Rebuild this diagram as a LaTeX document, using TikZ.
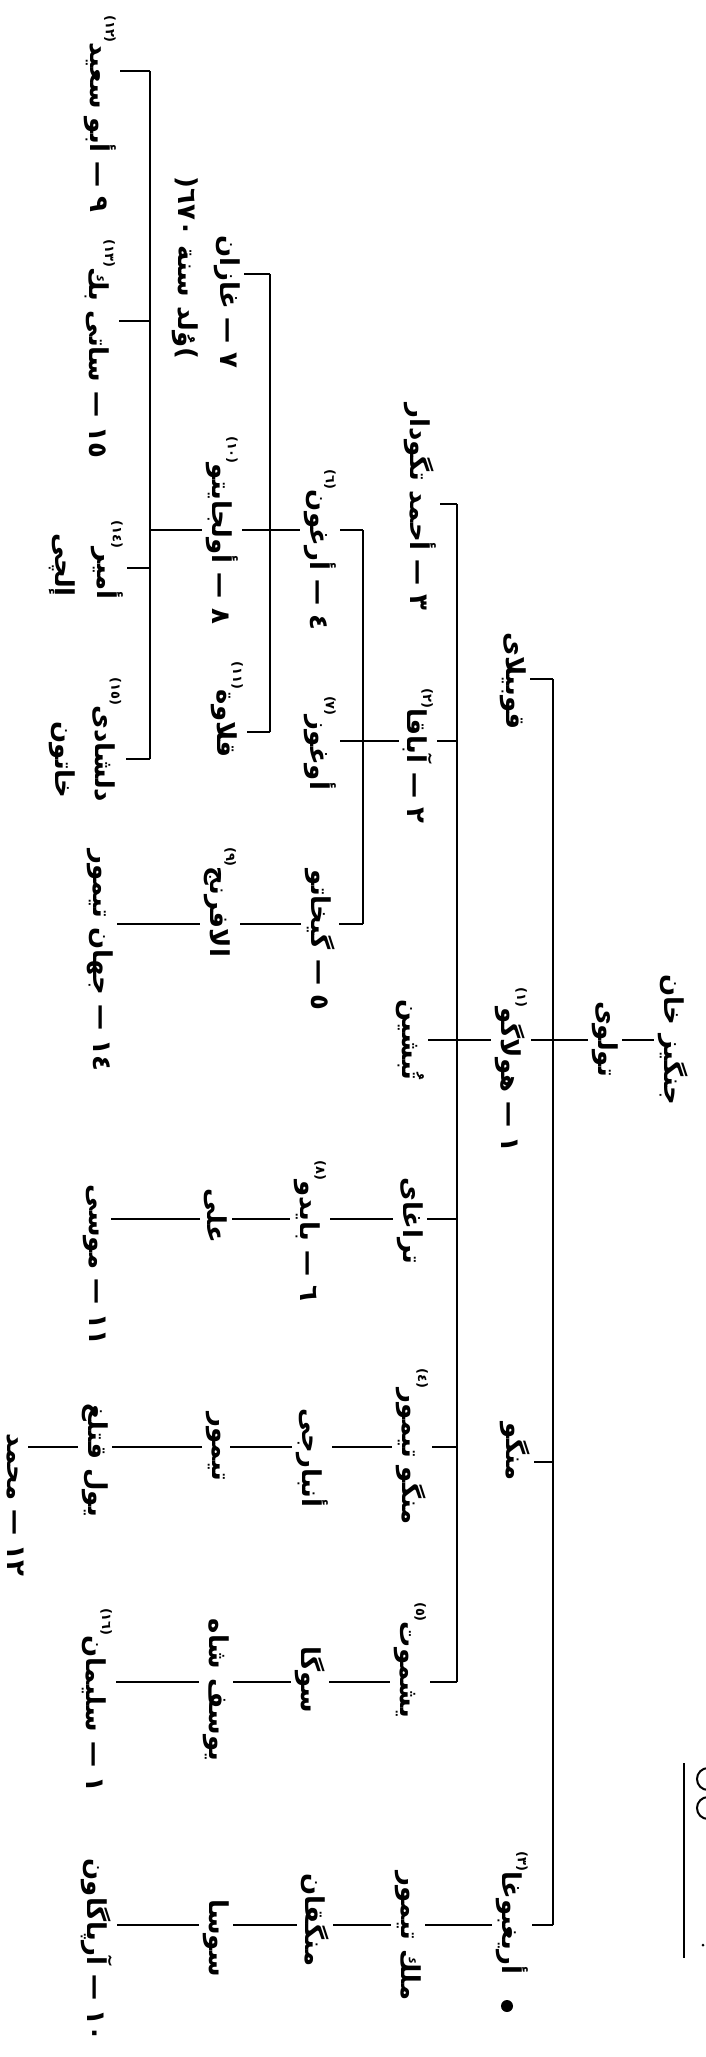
\documentclass[tikz,border=0pt]{standalone}
\usepackage{fontspec}
\usepackage{tikz}
\newfontfamily\arabicfont[Script=Arabic]{DejaVu Sans}
\TeXXeTstate=1
\newcommand{\artxt}[1]{\beginR #1\endR}
\newcommand{\nd}{\hspace{0.35em}—\hspace{0.35em}}
\newcommand{\fnum}[1]{\raisebox{1.1ex}{\fontsize{6.5}{7}\selectfont\beginL(#1)\endL}}
\tikzset{
    % 人名
    person/.style={
        rotate=-90,
        inner sep=2pt,
        font=\arabicfont\bfseries\fontsize{13}{15}\selectfont
    },
    % 竖线
    bar/.style={
        line width=1pt,
        black
    },
    % 横线
    link/.style={
        line width=1pt,
        black
    }
}
\begin{document}
\begin{tikzpicture}[x=0.5pt,y=-0.5pt]
   \useasboundingbox (0,0) rectangle (706,2057);
   \path
    (553,0) coordinate (b-tolui)
    (457,0) coordinate (b-hulagu)
    (363,0) coordinate (b-abaqa)
    (270,0) coordinate (b-arghun)
    (150,0) coordinate (b-oljaitu)
    (0,71)   coordinate (r-abusaid)
    (0,274)  coordinate (r-ghazan)
    (0,321)  coordinate (r-satibeg)
    (0,504)  coordinate (r-tekuder)
    (0,530)  coordinate (r-arghun)
    (0,568)  coordinate (r-amir)
    (0,679)  coordinate (r-qubilai)
    (0,732)  coordinate (r-qalawa)
    (0,741)  coordinate (r-abaqa)
    (0,759)  coordinate (r-dilshad)
    (0,924)  coordinate (r-gaykhatu)
    (0,1040) coordinate (r-root)
    (0,1219) coordinate (r-taraghai)
    (0,1447) coordinate (r-mtemur)
    (0,1462) coordinate (r-mongke)
    (0,1682) coordinate (r-yoshmut)
    (0,1925) coordinate (r-ariq)
    ;

   % 第0-2代
   \node[person] (chingiz) at (673,1040) {\artxt{جنگيز خان}};
   \node[person] (tolui) at (605,1039) {\artxt{تولوى}};
   \node[person] (qubilai) at (513,681) {\artxt{قوبيلاى}};
   \node[person] (hulagu) at (511,1070) {\artxt{١\nd هولاگو\fnum{١}}};
   \node[person] (mongke) at (515,1452) {\artxt{منگو}};
   \node[person] (ariq) at (512,1913) {\artxt{أريغبوغا\fnum{٣}}};
   \node[circle, fill=black, inner sep=0pt, minimum size=6pt] (dot) at (507,2006) {};

   % 第3代
   \node[person] (tekuder) at (420,507) {\artxt{٣\nd أحمد تگودار}};
   \node[person] (abaqa) at (418,756) {\artxt{٢\nd آباقا\fnum{٢}}};
   \node[person] (tubshin) at (410,1040) {\artxt{تُبشين}};
   \node[person] (taraghai) at (410,1221) {\artxt{تراغاى}};
   \node[person] (mtemur) at (412,1447) {\artxt{منگو تيمور\fnum{٤}}};
   \node[person] (yoshmut) at (410,1660) {\artxt{يشموت\fnum{٥}}};
   \node[person] (melik) at (408,1936) {\artxt{ملك تيمور}};

   % 第4代
   \node[person] (arghun) at (320,550) {\artxt{٤\nd أرغون\fnum{٦}}};
   \node[person] (oghuz) at (320,743) {\artxt{أوغوز\fnum{٧}}};
   \node[person] (gaykhatu) at (320,940) {\artxt{٥\nd گيخاتو}};
   \node[person] (baydu) at (310,1231) {\artxt{٦\nd بايدو\fnum{٨}}};
   \node[person] (anbarchi) at (312,1458) {\artxt{أنبارجى}};
   \node[person] (soga) at (310,1680) {\artxt{سوگا}};
   \node[person] (mingqan) at (315,1920) {\artxt{منگقان}};

   % 第5代
   \node[person] (ghazan) at (227,302) {\artxt{٧\nd غازان}};
   \node[person] (ghazan-note) at (185,268) {\beginL\mbox{(}\artxt{وُلد سنة ٦٧٠}\mbox{)}\endL};
   \node[person] (oljaitu) at (222,530) {\artxt{٨\nd أولجايتو\fnum{١٠}}};
   \node[person] (qalawa) at (227,710) {\artxt{قلاوة\fnum{١١}}};
   \node[person] (alafrang) at (220,902) {\artxt{الافرنج\fnum{٩}}};
   \node[person] (ali) at (216,1216) {\artxt{على}};
   \node[person] (temur) at (216,1447) {\artxt{تيمور}};
   \node[person] (yusuf) at (216,1690) {\artxt{يوسف شاه}};
   \node[person] (sosa) at (216,1938) {\artxt{سوسا}};

   % 第6-7代
   \node[person] (abusaid) at (100,114) {\artxt{٩\nd أبو سعيد\fnum{١٢}}};
   \node[person] (satibeg) at (100,349) {\artxt{١٥\nd ساتى بك\fnum{١٣}}};
   \node[person] (amir) at (107,560) {\artxt{أمير\fnum{١٤}}};
   \node[person] (amir-2) at (62,565) {\artxt{إلچى}};
   \node[person] (dilshad) at (107,740) {\artxt{دلشادى\fnum{١٥}}};
   \node[person] (dilshad-2) at (62,760) {\artxt{خاتون}};
   \node[person] (jahan) at (100,960) {\artxt{١٤\nd جهان تيمور}};
   \node[person] (musa) at (95,1265) {\artxt{١١\nd موسى}};
   \node[person] (yulqutlugh) at (95,1460) {\artxt{يول قتلغ}};
   \node[person] (sulayman) at (97,1700) {\artxt{١\nd سليمان\fnum{١٦}}};
   \node[person] (arpa) at (97,1950) {\artxt{١٠\nd آرپاگاون}};
   \node[person] (muhammad) at (15,1505) {\artxt{١٢\nd محمد}};

   % 竖线
   \draw[bar] (b-tolui |- r-qubilai) -- (b-tolui |- r-ariq);
   \draw[bar] (b-hulagu |- r-tekuder) -- (b-hulagu |- r-yoshmut);
   \draw[bar] (b-abaqa |- r-arghun) -- (b-abaqa |- r-gaykhatu);
   \draw[bar] (b-arghun |- r-ghazan) -- (b-arghun |- r-qalawa);
   \draw[bar] (b-oljaitu |- r-abusaid) -- (b-oljaitu |- r-dilshad);

   % 横线
   \draw[link] (chingiz.south |- r-root) -- (tolui.north |- r-root);
   \draw[link] (tolui.south |- r-root) -- (hulagu.north |- r-root);
   \draw[link] (hulagu.south |- r-root) -- (tubshin.north |- r-root);
   \draw[link] (b-tolui |- r-qubilai) -- (qubilai.north |- r-qubilai);
   \draw[link] (b-tolui |- r-mongke) -- (mongke.north |- r-mongke);
   \draw[link] (b-tolui |- r-ariq) -- (ariq.north |- r-ariq);
   \draw[link] (ariq.south |- r-ariq) -- (melik.north |- r-ariq);
   \draw[link] (melik.south |- r-ariq) -- (mingqan.north |- r-ariq);
   \draw[link] (mingqan.south |- r-ariq) -- (sosa.north |- r-ariq);
   \draw[link] (sosa.south |- r-ariq) -- (arpa.north |- r-ariq);

   \draw[link] (b-hulagu |- r-tekuder) -- (tekuder.north |- r-tekuder);
   \draw[link] (b-hulagu |- r-abaqa) -- (abaqa.north |- r-abaqa);
   \draw[link] (abaqa.south |- r-abaqa) -- (oghuz.north |- r-abaqa);
   \draw[link] (b-hulagu |- r-taraghai) -- (taraghai.north |- r-taraghai);
   \draw[link] (taraghai.south |- r-taraghai) -- (baydu.north |- r-taraghai);
   \draw[link] (baydu.south |- r-taraghai) -- (ali.north |- r-taraghai);
   \draw[link] (ali.south |- r-taraghai) -- (musa.north |- r-taraghai);
   \draw[link] (b-hulagu |- r-mtemur) -- (mtemur.north |- r-mtemur);
   \draw[link] (mtemur.south |- r-mtemur) -- (anbarchi.north |- r-mtemur);
   \draw[link] (anbarchi.south |- r-mtemur) -- (temur.north |- r-mtemur);
   \draw[link] (temur.south |- r-mtemur) -- (yulqutlugh.north |- r-mtemur);
   \draw[link] (yulqutlugh.south |- r-mtemur) -- (muhammad.north |- r-mtemur);
   \draw[link] (b-hulagu |- r-yoshmut) -- (yoshmut.north |- r-yoshmut);
   \draw[link] (yoshmut.south |- r-yoshmut) -- (soga.north |- r-yoshmut);
   \draw[link] (soga.south |- r-yoshmut) -- (yusuf.north |- r-yoshmut);
   \draw[link] (yusuf.south |- r-yoshmut) -- (sulayman.north |- r-yoshmut);

   \draw[link] (b-abaqa |- r-arghun) -- (arghun.north |- r-arghun);
   \draw[link] (arghun.south |- r-arghun) -- (oljaitu.north |- r-arghun);
   \draw[link] (oljaitu.south |- r-arghun) -- (b-oljaitu |- r-arghun);
   \draw[link] (b-abaqa |- r-gaykhatu) -- (gaykhatu.north |- r-gaykhatu);
   \draw[link] (gaykhatu.south |- r-gaykhatu) -- (alafrang.north |- r-gaykhatu);
   \draw[link] (alafrang.south |- r-gaykhatu) -- (jahan.north |- r-gaykhatu);

   \draw[link] (b-arghun |- r-ghazan) -- (ghazan.north |- r-ghazan);
   \draw[link] (b-arghun |- r-qalawa) -- (qalawa.north |- r-qalawa);

   \draw[link] (b-oljaitu |- r-abusaid) -- (abusaid.north |- r-abusaid);
   \draw[link] (b-oljaitu |- r-satibeg) -- (satibeg.north |- r-satibeg);
   \draw[link] (b-oljaitu |- r-amir) -- (amir.north |- r-amir);
   \draw[link] (b-oljaitu |- r-dilshad) -- (dilshad.north |- r-dilshad);

   % 页眉残线
   \draw[line width=1pt] (684,1763) -- (684,1958);
   \draw[line width=1pt] (708,1790) arc[start angle=90, end angle=270, radius=11];
   \draw[line width=1pt] (708,1819) arc[start angle=90, end angle=270, radius=11];
   \fill (703,1945) circle (1.5);
\end{tikzpicture}
\end{document}
